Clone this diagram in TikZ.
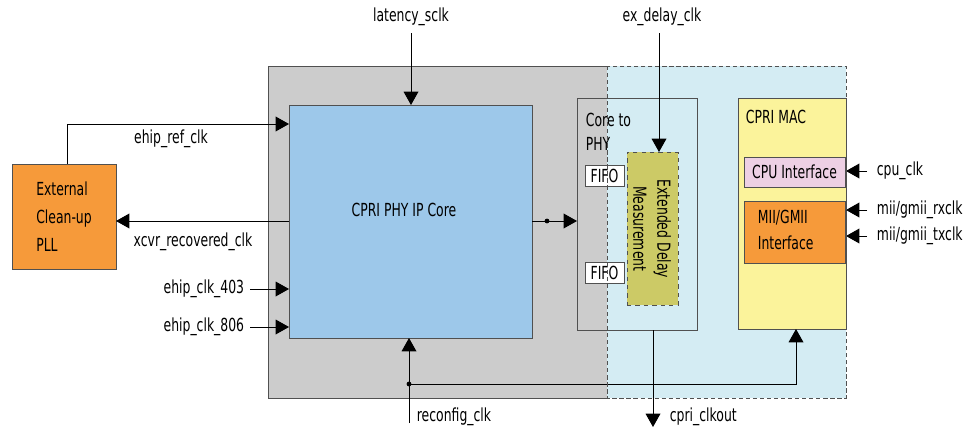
\documentclass[tikz,border=0pt]{standalone}
\usepackage{fontspec}
\setmainfont[FakeStretch=0.69]{DejaVu Sans}
\usetikzlibrary{arrows.meta}
\definecolor{graybg}{RGB}{204,204,204}
\definecolor{bluebg}{RGB}{212,236,243}
\definecolor{phyblue}{RGB}{157,200,234}
\definecolor{pllorange}{RGB}{246,154,58}
\definecolor{macyellow}{RGB}{251,243,155}
\definecolor{cpupink}{RGB}{237,208,228}
\definecolor{dlyolive}{RGB}{204,202,102}
\definecolor{edge}{RGB}{80,80,80}
\begin{document}
\begin{tikzpicture}[line width=0.7pt,
  every node/.style={font=\fontsize{12.8}{17}\selectfont, text=black},
  blk/.style={draw=edge, inner sep=0pt, outer sep=0pt},
  lbl/.style={inner sep=1pt},
  clk/.style={-{Triangle[length=9.5pt,width=10.5pt]}}]
  \useasboundingbox (0,0) rectangle (24.425,-10.825);
  % Backgrounds
  \fill[graybg] (6.7,-1.65) rectangle (15.175,-9.95);
  \fill[bluebg] (15.175,-1.65) rectangle (21.15,-9.95);
  \draw[edge] (15.175,-1.65) -- (6.7,-1.65) -- (6.7,-9.95) -- (15.175,-9.95);
  % Blocks
  \node[blk, fill=phyblue, minimum width=6.075cm, minimum height=5.825cm] (phy) at (10.2625,-5.5375) {};
  \node (phytxt) at (10.1,-5.25) {CPRI PHY IP Core};
  \node[blk, fill=pllorange, minimum width=2.6cm, minimum height=2.625cm, align=left,
        font=\fontsize{12.8}{20}\selectfont] (pll) at (1.6,-5.4125) {External\\Clean-up\\PLL};
  \node[blk, minimum width=3cm, minimum height=5.8cm] (c2p) at (15.925,-5.35) {};
  \node[lbl, anchor=west, align=left] (c2ptxt) at (14.6,-3.3) {Core to\\PHY};
  \node[blk, fill=white, minimum width=0.975cm, minimum height=0.525cm] (fifoa) at (15.1125,-4.3875) {FIFO};
  \node[blk, fill=white, minimum width=0.975cm, minimum height=0.525cm] (fifob) at (15.1125,-6.825) {FIFO};
  \node[blk, dashed, fill=dlyolive, minimum width=1.275cm, minimum height=3.825cm] (dly) at (16.3125,-5.7125) {};
  \node[rotate=-90, align=center] (dlytxt) at (16.3,-5.72) {Extended Delay\\Measurement};
  \node[blk, fill=macyellow, minimum width=2.7cm, minimum height=5.775cm] (mac) at (19.8,-5.3375) {};
  \node[lbl, anchor=west] (mactxt) at (18.6,-2.925) {CPRI MAC};
  \node[blk, fill=cpupink, minimum width=2.525cm, minimum height=0.75cm] (cpu) at (19.8625,-4.3) {CPU Interface};
  \node[blk, fill=pllorange, minimum width=2.525cm, minimum height=1.55cm] (mii) at (19.8625,-5.8) {};
  \node[lbl, anchor=west, align=left, font=\fontsize{12.8}{18}\selectfont] (miitxt) at (18.9,-5.75) {MII/GMII\\Interface};
  % Clock inputs and outputs
  \coordinate (refin) at (7.225,-3.1);
  \draw[clk] (1.675,-4.1) |- (refin);
  \node[lbl] (reflbl) at (4.275,-3.475) {ehip\_ref\_clk};
  \coordinate (xcvrout) at (7.225,-5.525);
  \draw[clk] (xcvrout) -- (xcvrout -| pll.east);
  \node[lbl] (xcvrlbl) at (4.825,-6.05) {xcvr\_recovered\_clk};
  \coordinate (cka) at (6.25,-7.225);
  \coordinate (ckb) at (6.25,-8.175);
  \draw[clk] (cka) -- (cka -| phy.west);
  \draw[clk] (ckb) -- (ckb -| phy.west);
  \node[lbl, anchor=east] (ckalbl) at (6.15,-7.225) {ehip\_clk\_403};
  \node[lbl, anchor=east] (ckblbl) at (6.15,-8.175) {ehip\_clk\_806};
  \coordinate (lat) at (10.275,-0.825);
  \draw[clk] (lat) -- (lat |- phy.north);
  \node[lbl] (latlbl) at (10.275,-0.425) {latency\_sclk};
  \coordinate (exd) at (16.475,-0.825);
  \draw[clk] (exd) -- (exd |- dly.north);
  \node[lbl] (exdlbl) at (16.55,-0.425) {ex\_delay\_clk};
  \coordinate (phyout) at (13.3,-5.525);
  \draw[clk] (phyout) -- (phyout -| c2p.west);
  \fill ([xshift=0.375cm]phyout) circle (1.7pt);
  \coordinate (clkout) at (16.325,-10.675);
  \draw[clk] (clkout |- c2p.south) -- (clkout);
  \node[lbl, anchor=west] (clkoutlbl) at (16.7,-10.425) {cpri\_clkout};
  \coordinate (rcfg) at (10.225,-10.575);
  \coordinate (rdot) at (10.225,-9.6);
  \draw[clk] (rcfg) -- (rcfg |- phy.south);
  \draw[clk] (rdot) -| ([xshift=1mm]mac.south);
  \fill (rdot) circle (1.7pt);
  \node[lbl, anchor=west] (rcfglbl) at (10.375,-10.425) {reconfig\_clk};
  \coordinate (cpuclk) at (21.675,-4.275);
  \coordinate (rxclk) at (21.675,-5.25);
  \coordinate (txclk) at (21.675,-5.9);
  \draw[clk] (cpuclk) -- (cpuclk -| mac.east);
  \draw[clk] (rxclk) -- (rxclk -| mac.east);
  \draw[clk] (txclk) -- (txclk -| mac.east);
  \node[lbl, anchor=west] (cpulbl) at (21.875,-4.275) {cpu\_clk};
  \node[lbl, anchor=west] (rxlbl) at (21.875,-5.25) {mii/gmii\_rxclk};
  \node[lbl, anchor=west] (txlbl) at (21.875,-5.9) {mii/gmii\_txclk};
  % Boundary of the MAC side
  \draw[edge, dash pattern=on 3pt off 2pt] (15.175,-1.65) rectangle (21.15,-9.95);
\end{tikzpicture}
\end{document}
